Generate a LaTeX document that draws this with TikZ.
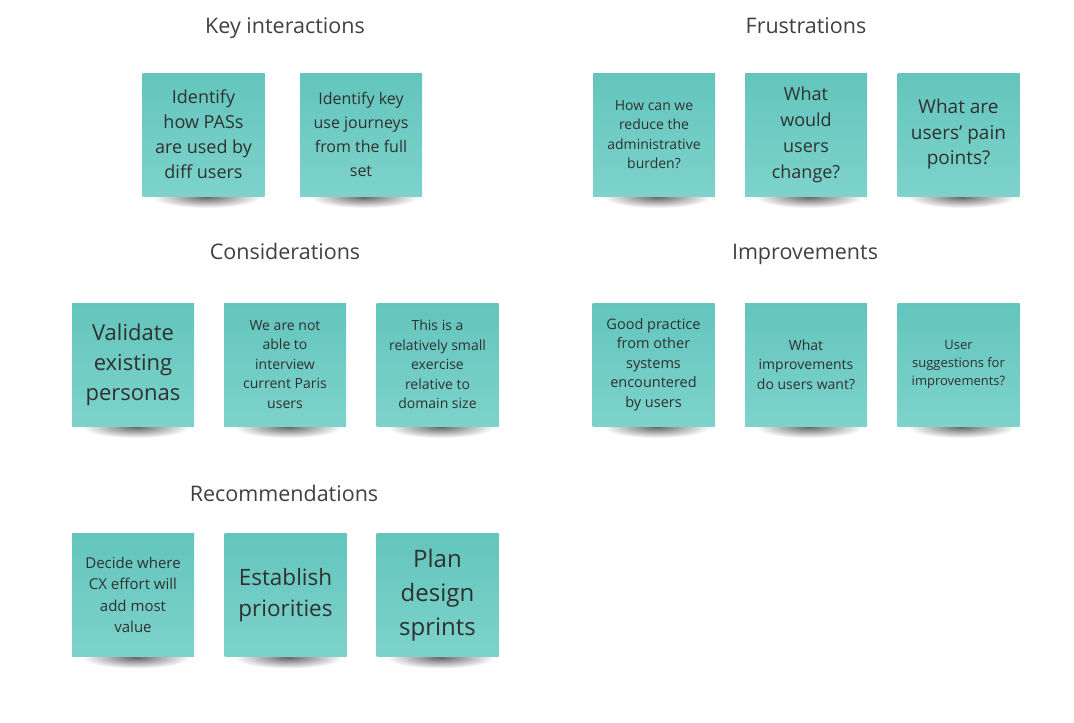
\documentclass[tikz,border=0pt]{standalone}
\usepackage{fontspec}
\setmainfont{Open Sans}
\definecolor{notetop}{HTML}{63C5BD}
\definecolor{notebot}{HTML}{7DD3CB}
\definecolor{inktext}{HTML}{303030}
\definecolor{titletext}{HTML}{404040}
\tikzset{
  sticky/.style={minimum width=122pt, minimum height=123pt, inner sep=0pt,
    top color=notetop, bottom color=notebot, draw=none, align=center,
    text=inktext},
  fsz/.style 2 args={font=\fontsize{#1}{#2}\selectfont},
  title/.style={anchor=base, text=titletext, font=\fontsize{21.5}{26}\selectfont}
}
% \stickynote{name}{cx}{cy}{options}{text}
\newcommand{\stickynote}[5]{%
  \shade[inner color=black!60, outer color=white]
    (#2+3, #3+62.5) ellipse [x radius=54, y radius=11];
  \node[sticky, #4] (#1) at (#2,#3) {#5};
}
\begin{document}
\begin{tikzpicture}[x=1pt,y=-1pt]
\useasboundingbox (0,0) rectangle (1074,723);
\fill[white] (0,0) rectangle (1074,723);

% titles
\node[title] (tKI) at (285,33) {Key interactions};
\node[title] (tFR) at (806,33) {Frustrations};
\node[title] (tCO) at (285,259) {Considerations};
\node[title] (tIM) at (805,259) {Improvements};
\node[title] (tRE) at (284,501) {Recommendations};

% Key interactions
\stickynote{ki1}{203.5}{134.5}{fsz={18}{25}}{Identify\\how PASs\\are used by\\diff users}
\stickynote{ki2}{361}{134.5}{fsz={16}{24}}{Identify key\\use journeys\\from the full\\set}

% Frustrations
\stickynote{fr1}{654}{134.5}{fsz={14}{19.5}}{How can we\\reduce the\\administrative\\burden?}
\stickynote{fr2}{806}{134.5}{fsz={18}{26}}{What\\would\\users\\change?}
\stickynote{fr3}{958.5}{134.5}{fsz={19}{25.5}}{What are\\users' pain\\points?}

% Considerations
\stickynote{co1}{133}{364.5}{fsz={22}{30}}{Validate\\existing\\personas}
\stickynote{co2}{285}{364.5}{fsz={14}{19.5}}{We are not\\able to\\interview\\current Paris\\users}
\stickynote{co3}{437.5}{364.5}{fsz={14}{19.5}}{This is a\\relatively small\\exercise\\relative to\\domain size}

% Improvements
\stickynote{im1}{653.5}{364.5}{fsz={14.5}{19.5}}{Good practice\\from other\\systems\\encountered\\by users}
\stickynote{im2}{806}{364.5}{fsz={14}{19.5}}{What\\improvements\\do users want?}
\stickynote{im3}{958.5}{364.5}{fsz={13}{18}}{User\\suggestions for\\improvements?}

% Recommendations
\stickynote{re1}{133}{595}{fsz={15}{21.5}}{Decide where\\CX effort will\\add most\\value}
\stickynote{re2}{285.5}{595}{fsz={22.5}{31}}{Establish\\priorities}
\stickynote{re3}{437.5}{595}{fsz={24}{34}}{Plan\\design\\sprints}
\end{tikzpicture}
\end{document}
